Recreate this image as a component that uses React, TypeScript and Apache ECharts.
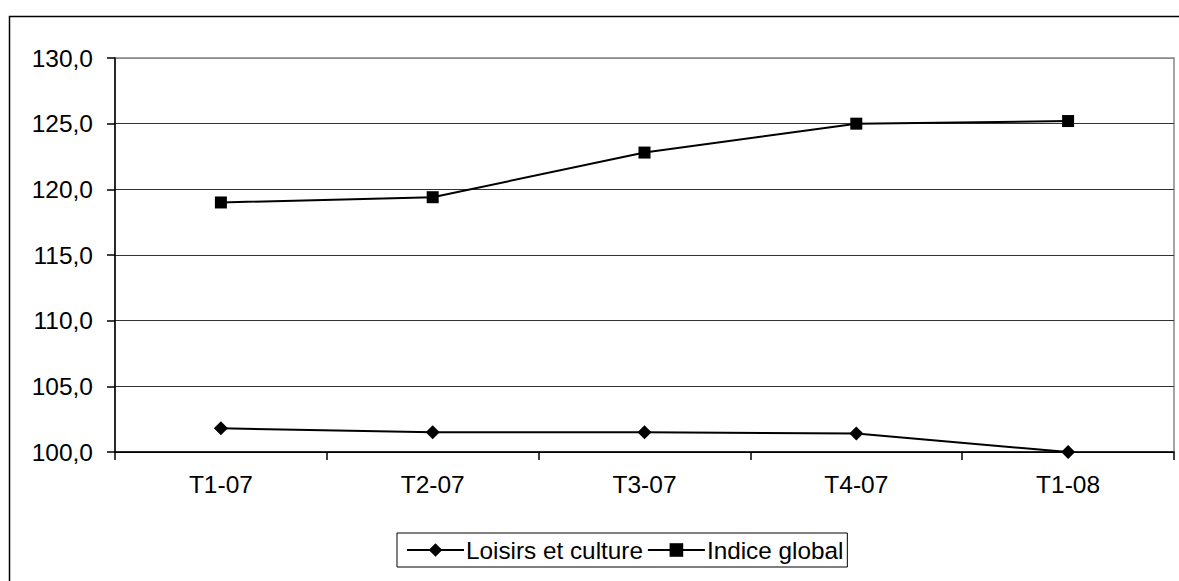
import React, { useEffect, useRef } from "react";
import * as echarts from "echarts";

const categories = ["T1-07", "T2-07", "T3-07", "T4-07", "T1-08"];
const loisirs = [101.8, 101.5, 101.5, 101.4, 100.0];
const indiceGlobal = [119.0, 119.4, 122.8, 125.0, 125.2];
const seriesNames = ["Loisirs et culture", "Indice global"];

const FONT = "'Liberation Sans', Arial, sans-serif";

export default function App() {
  const ref = useRef<HTMLDivElement>(null);
  useEffect(() => {
    const chart = echarts.init(ref.current!, null, { renderer: "svg" });
    chart.setOption({
      animation: false,
      backgroundColor: "#fff",
      textStyle: { fontFamily: FONT },
      graphic: [
        {
          type: "rect",
          shape: { x: 9.5, y: 16.5, width: 1300, height: 700 },
          style: { fill: "none", stroke: "#000", lineWidth: 1.5 },
          silent: true,
        },
      ],
      grid: {
        left: 115,
        top: 58,
        right: 5,
        bottom: 129,
        show: true,
        borderColor: "#888",
        borderWidth: 1.5,
        backgroundColor: "transparent",
      },
      legend: {
        left: 397,
        top: 533,
        orient: "horizontal",
        data: seriesNames,
        itemWidth: 57,
        itemHeight: 17,
        itemGap: 4,
        padding: [5, 4, 5, 9],
        borderColor: "#000",
        borderWidth: 1,
        textStyle: { fontFamily: FONT, fontSize: 24.3, color: "#000", padding: [0, 0, 0, -3] },
      },
      xAxis: {
        type: "category",
        data: categories,
        boundaryGap: true,
        axisLine: { lineStyle: { color: "#000", width: 1.5 } },
        axisTick: { show: true, length: 8, inside: false, lineStyle: { color: "#000", width: 1.5 } },
        axisLabel: { fontFamily: FONT, fontSize: 24.5, color: "#000", margin: 20 },
        splitLine: { show: false },
      },
      yAxis: {
        type: "value",
        min: 100,
        max: 130,
        interval: 5,
        axisLine: { show: true, lineStyle: { color: "#000", width: 1.5 } },
        axisTick: { show: true, length: 8, inside: false, lineStyle: { color: "#000", width: 1.5 } },
        axisLabel: {
          fontFamily: FONT,
          fontSize: 24.5,
          color: "#000",
          margin: 22,
          formatter: (v: number) => v.toFixed(1).replace(".", ","),
        },
        splitLine: {
          show: true,
          lineStyle: { color: ["#000", "#333", "#333", "#333", "#333", "#333", "#888"], width: 1.2 },
        },
      },
      series: [
        {
          name: seriesNames[0],
          type: "line",
          data: loisirs,
          symbol: "diamond",
          symbolSize: 14,
          showAllSymbol: true,
          lineStyle: { color: "#000", width: 2 },
          itemStyle: { color: "#000" },
        },
        {
          name: seriesNames[1],
          type: "line",
          data: indiceGlobal,
          symbol: "rect",
          symbolSize: 12,
          showAllSymbol: true,
          lineStyle: { color: "#000", width: 2 },
          itemStyle: { color: "#000" },
        },
      ],
    });
    return () => chart.dispose();
  }, []);
  return (
    <div
      ref={ref}
      style={{ position: "fixed", left: 0, top: 0, width: 1179, height: 581 }}
    />
  );
}
